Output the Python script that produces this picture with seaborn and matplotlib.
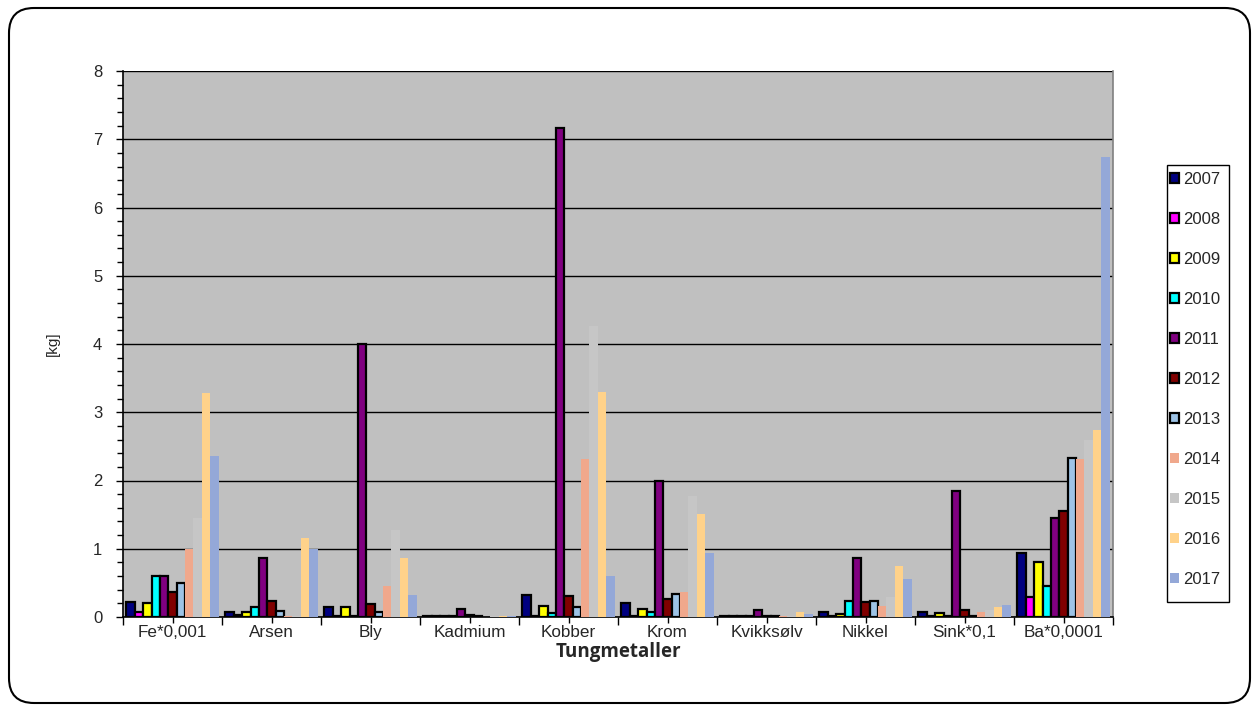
import matplotlib
matplotlib.use("Agg")
import matplotlib.pyplot as plt
from matplotlib.patches import FancyBboxPatch, Patch, Rectangle
from matplotlib.ticker import MultipleLocator, FixedLocator
import seaborn as sns
import pandas as pd

# Heavy metals (some scaled) per year, in kg
categories = ["Fe*0,001", "Arsen", "Bly", "Kadmium", "Kobber", "Krom",
              "Kvikksølv", "Nikkel", "Sink*0,1", "Ba*0,0001"]
years = ["2007", "2008", "2009", "2010", "2011", "2012",
         "2013", "2014", "2015", "2016", "2017"]

v2007 = [0.22, 0.07, 0.15, 0.01, 0.32, 0.20, 0.01, 0.07, 0.07, 0.94]
v2008 = [0.07, 0.03, 0.02, 0.01, 0.02, 0.02, 0.01, 0.02, 0.02, 0.30]
v2009 = [0.21, 0.07, 0.15, 0.01, 0.16, 0.11, 0.01, 0.05, 0.06, 0.80]
v2010 = [0.60, 0.14, 0.02, 0.01, 0.06, 0.07, 0.01, 0.23, 0.02, 0.45]
v2011 = [0.60, 0.86, 4.00, 0.11, 7.17, 2.00, 0.10, 0.86, 1.85, 1.45]
v2012 = [0.37, 0.23, 0.19, 0.03, 0.31, 0.26, 0.02, 0.22, 0.10, 1.56]
v2013 = [0.50, 0.09, 0.07, 0.01, 0.15, 0.33, 0.01, 0.23, 0.02, 2.33]
v2014 = [1.00, 0.01, 0.45, 0.005, 2.31, 0.37, 0.01, 0.16, 0.07, 2.31]
v2015 = [1.45, 0.02, 1.28, 0.01, 4.27, 1.77, 0.01, 0.30, 0.10, 2.60]
v2016 = [3.28, 1.16, 0.87, 0.01, 3.30, 1.51, 0.07, 0.74, 0.14, 2.74]
v2017 = [2.36, 0.99, 0.32, 0.02, 0.60, 0.94, 0.04, 0.55, 0.18, 6.74]

series = [v2007, v2008, v2009, v2010, v2011, v2012,
          v2013, v2014, v2015, v2016, v2017]

colors = ["#000080", "#FF00FF", "#FFFF00", "#00FFFF", "#800080", "#800000",
          "#9DC3E6", "#F0A88C", "#C6C6C6", "#FFD28A", "#94A8D8"]
outlined = {"2007", "2008", "2009", "2010", "2011", "2012", "2013"}

rows = []
for yr, vals in zip(years, series):
    for cat, v in zip(categories, vals):
        rows.append({"Metall": cat, "År": yr, "kg": v})
df = pd.DataFrame(rows)

sns.set_style("white")
plt.rcParams["font.family"] = ["Liberation Sans", "DejaVu Sans"]

W, H = 1259, 711
fig = plt.figure(figsize=(W / 100, H / 100), dpi=100)
ax = fig.add_axes([123 / W, 1 - 617 / H, (1113 - 123) / W, (617 - 71) / H])
ax.set_facecolor("#C0C0C0")

sns.barplot(data=df, x="Metall", y="kg", hue="År", order=categories,
            hue_order=years, palette=colors, width=0.93, gap=0,
            saturation=1, errorbar=None, ax=ax, legend=False, zorder=3)

for yr, cont in zip(years, ax.containers):
    for bar in cont:
        if yr in outlined:
            bar.set_edgecolor("black")
            bar.set_linewidth(1.6)
        else:
            bar.set_linewidth(0)

ax.set_ylim(0, 8)
ax.set_xlim(-0.5, len(categories) - 0.5)
ax.yaxis.set_major_locator(MultipleLocator(1))
ax.yaxis.set_minor_locator(MultipleLocator(0.2))
ax.xaxis.set_minor_locator(FixedLocator([i - 0.5 for i in range(len(categories) + 1)]))

ax.grid(axis="y", which="major", color="black", linewidth=1, zorder=1)
ax.set_axisbelow(True)

ax.spines["top"].set_visible(False)
ax.spines["left"].set_color("black")
ax.spines["left"].set_linewidth(1.2)
ax.spines["bottom"].set_color("black")
ax.spines["bottom"].set_linewidth(1.2)
ax.spines["right"].set_color("#808080")
ax.spines["right"].set_linewidth(1.2)

ax.tick_params(axis="y", which="major", direction="out", length=5, width=1,
               labelsize=12, pad=10, left=True, color="black")
ax.tick_params(axis="y", which="minor", direction="out", length=4, width=1,
               left=True, color="black")
ax.tick_params(axis="x", which="major", direction="out", length=4, width=1,
               labelsize=12.3, bottom=True, color="black", pad=2)
ax.tick_params(axis="x", which="minor", direction="out", length=6, width=1,
               bottom=True, color="black")

ax.set_ylabel("[kg]", fontsize=11, labelpad=24)
ax.set_xlabel("")
fig.text(618 / W, 1 - 652 / H, "Tungmetaller", ha="center", va="center",
         fontsize=13.5, fontweight="bold", family=["Open Sans", "DejaVu Sans"])

# legend: entries without frame, box drawn separately
handles = []
for yr, c in zip(years, colors):
    if yr in outlined:
        handles.append(Patch(facecolor=c, edgecolor="black", linewidth=1.6, label=yr))
    else:
        handles.append(Patch(facecolor=c, edgecolor="none", label=yr))
leg = fig.legend(handles=handles, loc="upper left",
                 bbox_to_anchor=(1170 / W, 1 - 172 / H),
                 frameon=False, fontsize=12,
                 handlelength=0.55, handleheight=0.55, handletextpad=0.25,
                 labelspacing=1.5, borderpad=0, borderaxespad=0)
fig.patches.append(Rectangle((1167 / W, 1 - 602 / H), 62 / W, 437 / H,
                             transform=fig.transFigure, fill=False,
                             edgecolor="black", linewidth=1))

# rounded outer frame of the chart
frame = FancyBboxPatch((0.09, 0.08), W / 100 - 0.18, H / 100 - 0.16,
                       boxstyle="round,pad=0,rounding_size=0.25",
                       transform=fig.dpi_scale_trans, fill=False,
                       edgecolor="black", linewidth=1.5)
fig.patches.append(frame)

fig.savefig("out.png", dpi=100)
